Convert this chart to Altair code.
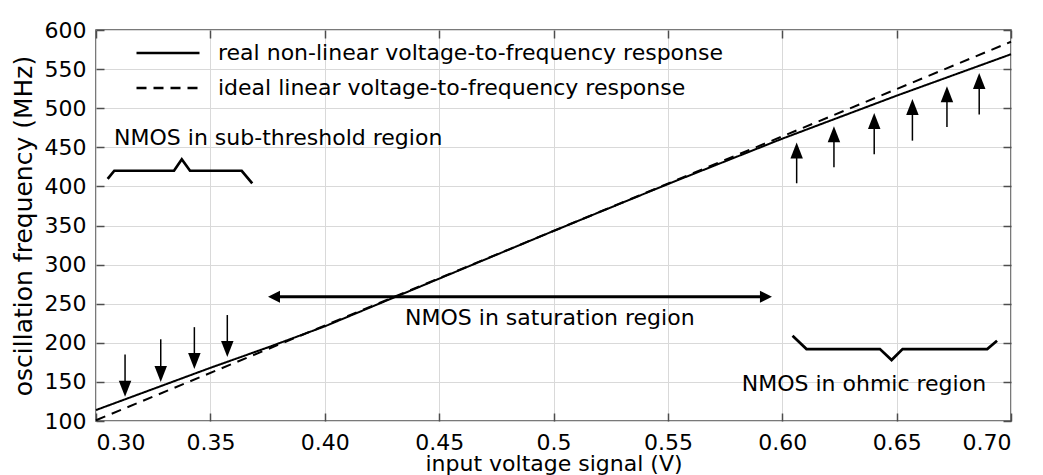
import altair as alt
import pandas as pd

FONT = "DejaVu Sans"

# ---- data ----
vin_real = [0.30, 0.325, 0.35, 0.375, 0.40, 0.45, 0.50, 0.55, 0.60, 0.65, 0.70]
f_real = [114, 141, 168, 194, 221, 282, 343, 403, 461, 516, 569]
vin_ideal = [0.30, 0.70]
f_ideal = [101, 585]
series_names = ["real non-linear voltage-to-frequency response",
                "ideal linear voltage-to-frequency response"]

down_x = [0.3127, 0.3283, 0.3430, 0.3574]
down_top = [185, 204.5, 220, 235.5]
down_tip = [131, 150, 166.5, 182]

up_x = [0.6063, 0.6226, 0.6402, 0.6569, 0.6720, 0.6861]
up_base = [404, 424.5, 441, 458.5, 476, 492]
up_tip = [456, 477, 494, 511.7, 528, 545]

sat_x = [0.3752, 0.5955]
sat_y = [259]

sub_brace_x = [0.3051, 0.3080, 0.3341, 0.3375, 0.3411, 0.3637, 0.3683]
sub_brace_y = [409.5, 420, 420, 434.7, 420, 420, 404]
ohm_brace_x = [0.6045, 0.6106, 0.6427, 0.6478, 0.6526, 0.6896, 0.6939]
ohm_brace_y = [209, 192, 192, 178, 192, 192, 202.7]

note_text = ["NMOS in sub-threshold region", "NMOS in saturation region", "NMOS in ohmic region"]
note_x = [0.3079, 0.4984, 0.6357]
note_y = [453, 222.8, 138.7]
note_align = ["left", "center", "center"]

x_ticks = [0.30, 0.35, 0.40, 0.45, 0.50, 0.55, 0.60, 0.65, 0.70]
y_ticks = [100, 150, 200, 250, 300, 350, 400, 450, 500, 550, 600]

# ---- tables ----
lines_df = pd.concat([
    pd.DataFrame({"vin": vin_real, "f": f_real, "series": series_names[0]}),
    pd.DataFrame({"vin": vin_ideal, "f": f_ideal, "series": series_names[1]}),
], ignore_index=True)
down_df = pd.DataFrame({"x": down_x, "top": down_top, "tip": down_tip})
up_df = pd.DataFrame({"x": up_x, "base": up_base, "tip": up_tip})
sat_df = pd.DataFrame({"x0": [sat_x[0]], "x1": [sat_x[1]], "y": sat_y})
brace_df = pd.concat([
    pd.DataFrame({"x": sub_brace_x, "y": sub_brace_y, "b": "sub", "i": range(len(sub_brace_x))}),
    pd.DataFrame({"x": ohm_brace_x, "y": ohm_brace_y, "b": "ohm", "i": range(len(ohm_brace_x))}),
], ignore_index=True)
notes_df = pd.DataFrame({"t": note_text, "x": note_x, "y": note_y, "a": note_align})

xs = alt.Scale(domain=[0.30, 0.70], nice=False, zero=False)
ys = alt.Scale(domain=[100, 600], nice=False, zero=False)
TICK = "#4d4d4d"
GRID = "#d9d9d9"
INWARD = {"expr": "-8"}


def X(f):
    return alt.X(f, type="quantitative", scale=xs, axis=None)


def Y(f):
    return alt.Y(f, type="quantitative", scale=ys, axis=None)


x_axis = alt.Axis(values=x_ticks, title="input voltage signal (V)",
                  labelExpr="abs(datum.value - 0.5) < 1e-6 ? '0.5' : format(datum.value, '.2f')",
                  grid=True, gridColor=GRID, gridWidth=1, domain=False,
                  tickSize=INWARD, tickColor=TICK, tickWidth=1.5, labelPadding=19,
                  titleFontSize=22, titleY=49, titleBaseline="alphabetic")
y_axis = alt.Axis(values=y_ticks, title="oscillation frequency (MHz)",
                  grid=True, gridColor=GRID, gridWidth=1, domain=False,
                  tickSize=INWARD, tickColor=TICK, tickWidth=1.5, labelPadding=18,
                  titlePadding=8, titleFontSize=25)
x_axis_top = alt.Axis(orient="top", values=x_ticks, labels=False, title="", grid=False,
                      domain=False, tickSize=INWARD, tickColor=TICK, tickWidth=1.5)
y_axis_right = alt.Axis(orient="right", values=y_ticks, labels=False, title="", grid=False,
                        domain=False, tickSize=INWARD, tickColor=TICK, tickWidth=1.5)

# legend symbol: a long horizontal stroke drawn beyond the nominal symbol box
LEGEND_SYMBOL = "M-3,0L3,0"

lines = alt.Chart(lines_df).mark_line(color="black", strokeWidth=2).encode(
    x=alt.X("vin:Q", scale=xs, axis=x_axis),
    y=alt.Y("f:Q", scale=ys, axis=y_axis),
    strokeDash=alt.StrokeDash(
        "series:N",
        scale=alt.Scale(domain=series_names, range=[[1, 0], [10, 7]]),
        legend=alt.Legend(title=None, orient="none", legendX=60, legendY=11,
                          symbolType=LEGEND_SYMBOL, symbolSize=441, symbolStrokeWidth=2.5,
                          symbolStrokeColor="black", symbolFillColor="transparent",
                          labelFont=FONT, labelFontSize=22,
                          labelColor="black", labelOffset=38, rowPadding=12,
                          padding=0, labelLimit=1000),
    ),
)

frame_axes = alt.Chart(lines_df).mark_point(opacity=0).encode(
    x=alt.X("vin:Q", scale=xs, axis=x_axis_top),
    y=alt.Y("f:Q", scale=ys, axis=y_axis_right),
)

down_shaft = alt.Chart(down_df).mark_rule(color="black", strokeWidth=1.5, y2Offset=-8).encode(
    x=X("x"), y=Y("top"), y2="tip:Q")
down_head = alt.Chart(down_df).mark_point(
    shape="M0,0L-0.39,-1L0.39,-1Z", size=1024, filled=True, fill="black",
    strokeWidth=0, opacity=1).encode(x=X("x"), y=Y("tip"))

up_shaft = alt.Chart(up_df).mark_rule(color="black", strokeWidth=1.5, y2Offset=8).encode(
    x=X("x"), y=Y("base"), y2="tip:Q")
up_head = alt.Chart(up_df).mark_point(
    shape="M0,0L-0.39,1L0.39,1Z", size=1024, filled=True, fill="black",
    strokeWidth=0, opacity=1).encode(x=X("x"), y=Y("tip"))

sat_shaft = alt.Chart(sat_df).mark_rule(color="black", strokeWidth=3, xOffset=8, x2Offset=-8).encode(
    x=X("x0"), x2="x1:Q", y=Y("y"))
sat_head_r = alt.Chart(sat_df).mark_point(
    shape="M0,0L-1,-0.5L-1,0.5Z", size=576, filled=True, fill="black",
    strokeWidth=0, opacity=1).encode(x=X("x1"), y=Y("y"))
sat_head_l = alt.Chart(sat_df).mark_point(
    shape="M0,0L1,-0.5L1,0.5Z", size=576, filled=True, fill="black",
    strokeWidth=0, opacity=1).encode(x=X("x0"), y=Y("y"))

braces = alt.Chart(brace_df).mark_line(color="black", strokeWidth=2.7, strokeJoin="miter").encode(
    x=X("x"), y=Y("y"), detail="b:N", order="i:Q")

notes_left = alt.Chart(notes_df[notes_df.a == "left"]).mark_text(
    font=FONT, fontSize=22, align="left", baseline="alphabetic", color="black").encode(
    x=X("x"), y=Y("y"), text="t:N")
notes_center = alt.Chart(notes_df[notes_df.a == "center"]).mark_text(
    font=FONT, fontSize=22, align="center", baseline="alphabetic", color="black").encode(
    x=X("x"), y=Y("y"), text="t:N")

chart = alt.layer(
    lines, frame_axes, down_shaft, down_head, up_shaft, up_head,
    sat_shaft, sat_head_r, sat_head_l, braces, notes_left, notes_center,
).resolve_axis(x="independent", y="independent").properties(
    width=915, height=391,
    autosize=alt.AutoSizeParams(type="none"),
    padding={"left": 88, "top": 22, "right": 24, "bottom": 54},
    background="white",
).configure_view(
    stroke=TICK, strokeWidth=1.5
).configure_axis(
    labelFont=FONT, labelFontSize=22, labelColor="black",
    titleFont=FONT, titleColor="black", titleFontWeight="normal",
)

chart.save("out.html", embed_options={"renderer": "svg", "actions": False})
